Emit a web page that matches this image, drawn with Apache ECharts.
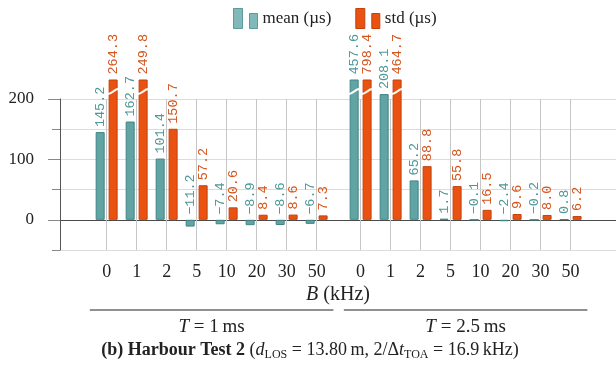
<!DOCTYPE html>
<html>
<head>
<meta charset="utf-8">
<script src="https://cdn.jsdelivr.net/npm/echarts@6/dist/echarts.min.js"></script>
<style>
  html, body { margin: 0; padding: 0; background: #fff; }
  #chart { width: 616px; height: 369px; }
</style>
</head>
<body>
<div id="chart"></div>
<script>
// Bandwidth B (kHz), repeated for each symbol duration T
const bandwidths = ['0', '1', '2', '5', '10', '20', '30', '50'];
const durations = ['1', '2.5'];            // T in ms
const seriesNames = ['mean (µs)', 'std (µs)'];

// T = 1 ms
const meanT1 = [145.2, 162.7, 101.4, -11.2, -7.4, -8.9, -8.6, -6.7];
const stdT1  = [264.3, 249.8, 150.7, 57.2, 20.6, 8.4, 8.6, 7.3];
// T = 2.5 ms
const meanT2 = [457.6, 208.1, 65.2, 1.7, -0.1, -2.4, -0.2, 0.8];
const stdT2  = [798.4, 464.7, 88.8, 55.8, 16.5, 9.6, 8.0, 6.2];

const yTickLabels = [0, 100, 200];

// ---- layout ----
const FONT = '"Liberation Serif", "DejaVu Serif", serif';
const MONO = '"Liberation Mono", "DejaVu Sans Mono", monospace';
const TEAL = '#62a3a4', TEAL_EDGE = '#3f8586', TEAL_TEXT = '#4e9798';
const ORANGE = '#ea5212', ORANGE_EDGE = '#c2420c', ORANGE_TEXT = '#d4541c';

const GRID_LEFT = 60, CHART_H = 369;
const AXIS_TOP = 99, AXIS_BOTTOM = 250;      // pixel rows of y = 200 and y = -50
const Y_MIN = -50, Y_MAX = 200;
const BAR_CUT = 80;                           // tall bars are cut off at this row
const pxPerUnit = (AXIS_BOTTOM - AXIS_TOP) / (Y_MAX - Y_MIN);
const cutValue = Y_MAX + (AXIS_TOP - BAR_CUT) / pxPerUnit;

const GROUP_STEP = 8.4667;                    // slot distance between the two groups' first bars
const X_MIN = -1.555, X_MAX = 16.98;
const BAR_W = 9, BAR_GAP = '44%';
const BAR_SHIFT = 6.5;                        // half distance between paired bar centres

const slot = (g, i) => +(g * GROUP_STEP + i).toFixed(4);
const groups = [[meanT1, stdT1], [meanT2, stdT2]];
const slots = [];
const slotLabel = {};
durations.forEach((_, g) => bandwidths.forEach((b, i) => {
  slots.push(slot(g, i));
  slotLabel[slot(g, i).toFixed(2)] = b;
}));

const toPairs = k => groups.flatMap((grp, g) => grp[k].map((v, i) => [slot(g, i), v]));
const meanData = toPairs(0);
const stdData = toPairs(1);

// bars that run past the cut get a white break stroke
const breaks = [];
[meanData, stdData].forEach((d, k) => d.forEach(p => {
  if (p[1] > cutValue) breaks.push([p[0], cutValue, k === 0 ? -1 : 1]);
}));

const fmt = v => v.toFixed(1).replace('-', '\u2212');

const barLabel = color => ({
  show: true,
  position: 'top',
  distance: 5,
  rotate: 90,
  align: 'left',
  verticalAlign: 'middle',
  fontFamily: MONO,
  fontSize: 13.5,
  color: color,
  formatter: p => fmt(p.value[1])
});

const chart = echarts.init(document.getElementById('chart'), null, { renderer: 'canvas' });

// markers on the mean series sit on the mean bar centre; move them back to the slot centre
const xPxPerUnit = (chart.getWidth() - GRID_LEFT) / (X_MAX - X_MIN);
const guideShift = BAR_SHIFT / xPxPerUnit;

const option = {
  animation: false,
  backgroundColor: '#fff',
  textStyle: { fontFamily: FONT },
  legend: {
    top: 3,
    left: 228,
    itemWidth: 24,
    itemHeight: 20,
    itemGap: 24,
    textStyle: { fontFamily: FONT, fontSize: 17, color: '#222' },
    data: [
      { name: seriesNames[0], icon: 'path://M0,0H9V20H0Z M16,5H24V20H16Z',
        itemStyle: { color: '#82b8b9', borderColor: '#5a9b9c', borderWidth: 1 } },
      { name: seriesNames[1], icon: 'path://M0,0H9V20H0Z M16,5H24V20H16Z',
        itemStyle: { color: ORANGE, borderColor: ORANGE_EDGE, borderWidth: 1 } }
    ]
  },
  grid: [
    // frame: axes, ticks, grid lines
    { left: GRID_LEFT, right: 0, top: AXIS_TOP, bottom: CHART_H - AXIS_BOTTOM, outerBoundsMode: 'none' },
    // bars, allowed to rise a little above the frame
    { left: GRID_LEFT, right: 0, top: BAR_CUT, bottom: CHART_H - AXIS_BOTTOM, outerBoundsMode: 'none' }
  ],
  xAxis: [
    {
      type: 'value', gridIndex: 0, min: X_MIN, max: X_MAX,
      axisLine: { show: false },
      axisTick: { show: false },
      axisLabel: {
        customValues: slots,
        margin: 13,
        fontFamily: FONT, fontSize: 18, color: '#222',
        formatter: v => slotLabel[(+v).toFixed(2)] || ''
      },
      splitLine: { show: false }
    },
    { type: 'value', gridIndex: 1, min: X_MIN, max: X_MAX, show: false }
  ],
  yAxis: [
    {
      type: 'value', gridIndex: 0, min: Y_MIN, max: Y_MAX, interval: 50,
      position: 'left',
      axisLine: { show: true, onZero: false, lineStyle: { color: '#555', width: 1 } },
      axisTick: { show: true, length: 8, lineStyle: { color: '#888' } },
      axisLabel: { show: false },
      splitLine: {
        show: true,
        lineStyle: { color: ['#dcdcdc', '#4a4a4a', '#dcdcdc', '#dcdcdc', '#dcdcdc', '#dcdcdc'], width: 1 }
      }
    },
    {
      type: 'value', gridIndex: 0, min: Y_MIN, max: Y_MAX,
      position: 'left',
      axisLine: { show: false, onZero: false },
      axisTick: { show: true, length: 12, customValues: yTickLabels, lineStyle: { color: '#888' } },
      axisLabel: { customValues: yTickLabels, margin: 26, fontFamily: FONT, fontSize: 17, color: '#222' },
      splitLine: { show: false }
    },
    { type: 'value', gridIndex: 1, min: Y_MIN, max: cutValue, show: false }
  ],
  series: [
    {
      name: seriesNames[0], type: 'bar', xAxisIndex: 1, yAxisIndex: 2,
      data: meanData, barWidth: BAR_W, barGap: BAR_GAP, clip: true,
      itemStyle: { color: TEAL, borderColor: TEAL_EDGE, borderWidth: 1 },
      label: barLabel(TEAL_TEXT), z: 3,
      // vertical guide line at every bandwidth slot, spanning the framed range
      markLine: {
        silent: true,
        animation: false,
        z: 1,
        symbol: ['none', 'none'],
        label: { show: false },
        emphasis: { disabled: true },
        lineStyle: { type: 'solid', color: '#c6c6c6', width: 1 },
        data: slots.map(s => [{ coord: [s + guideShift, Y_MIN] }, { coord: [s + guideShift, Y_MAX] }])
      }
    },
    {
      name: seriesNames[1], type: 'bar', xAxisIndex: 1, yAxisIndex: 2,
      data: stdData, barWidth: BAR_W, barGap: BAR_GAP, clip: true,
      itemStyle: { color: ORANGE, borderColor: ORANGE_EDGE, borderWidth: 1 },
      label: barLabel(ORANGE_TEXT), z: 3
    },
    {
      type: 'custom', xAxisIndex: 1, yAxisIndex: 2, z: 5, silent: true,
      encode: { x: 0, y: 1 },
      data: breaks,
      renderItem: (params, api) => {
        const p = api.coord([api.value(0), api.value(1)]);
        const cx = p[0] + api.value(2) * BAR_SHIFT;
        const y = p[1];
        return {
          type: 'bezierCurve',
          shape: {
            x1: cx - 6.5, y1: y + 14, x2: cx + 6.5, y2: y + 9,
            cpx1: cx - 1, cpy1: y + 15, cpx2: cx + 1, cpy2: y + 8
          },
          style: { stroke: '#fff', lineWidth: 2.2, fill: null }
        };
      }
    }
  ]
};

chart.setOption(option);

// annotations under the axis: axis title, group rules and captions
const px = v => chart.convertToPixel({ xAxisIndex: 0 }, v);
const graphics = [];
const mid = (px(X_MIN) + px(X_MAX)) / 2;
graphics.push({
  type: 'text', x: mid, y: 295,
  style: {
    text: '{i|B} (kHz)', align: 'center', verticalAlign: 'middle',
    font: '20px ' + FONT, fill: '#222',
    rich: { i: { fontStyle: 'italic', fontFamily: FONT, fontSize: 20 } }
  }
});
durations.forEach((t, g) => {
  const x0 = px(slot(g, 0) - 0.56);
  const x1 = px(slot(g, bandwidths.length - 1) + 0.56);
  graphics.push({
    type: 'line', shape: { x1: x0, y1: 310, x2: x1, y2: 310 },
    style: { stroke: '#222', lineWidth: 1.2 }
  });
  graphics.push({
    type: 'text', x: (x0 + x1) / 2, y: 327,
    style: {
      text: '{i|T} = ' + t + '\u2009ms', align: 'center', verticalAlign: 'middle',
      font: '19px ' + FONT, fill: '#222',
      rich: { i: { fontStyle: 'italic', fontFamily: FONT, fontSize: 19 } }
    }
  });
});
graphics.push({
  type: 'text', x: 310, y: 350,
  style: {
    text: '{b|(b) Harbour Test 2} ({i|d}{s|LOS} = 13.80\u2009m, 2/\u0394{i|t}{s|TOA} = 16.9\u2009kHz)',
    align: 'center', verticalAlign: 'middle',
    font: '18px ' + FONT, fill: '#222',
    rich: {
      b: { fontWeight: 'bold', fontFamily: FONT, fontSize: 18, lineHeight: 22 },
      i: { fontStyle: 'italic', fontFamily: FONT, fontSize: 18, lineHeight: 22 },
      s: { fontFamily: FONT, fontSize: 12, lineHeight: 13, verticalAlign: 'bottom' }
    }
  }
});
chart.setOption({ graphic: graphics });
</script>
</body>
</html>
